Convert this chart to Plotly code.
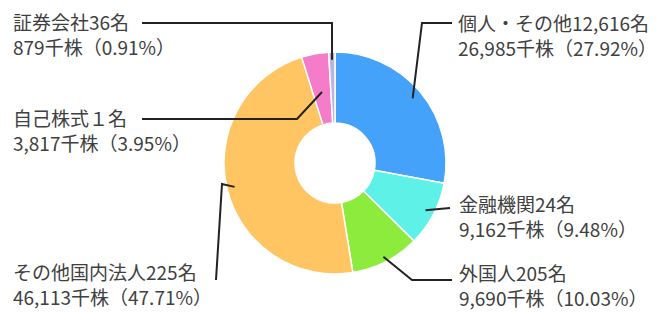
import math
import plotly.graph_objects as go

# ---- data ----
categories = ["個人・その他", "金融機関", "外国人", "その他国内法人", "自己株式", "証券会社"]
holders = ["12,616名", "24名", "205名", "225名", "１名", "36名"]
shares_k = [26985, 9162, 9690, 46113, 3817, 879]          # 千株
percent_text = ["27.92%", "9.48%", "10.03%", "47.71%", "3.95%", "0.91%"]
colors = ["#45A2FA", "#5DF1E8", "#8DEB3E", "#FFC562", "#F47CC9", "#B9B3E6"]

WIN_W, WIN_H = 658, 312
OFF = 8                              # default page body margin
W, H = WIN_W - OFF, WIN_H - OFF
CX, CY, R = 335, 163, 111            # pie centre / radius in window pixels
HOLE = 0.36

def px(x):
    return (x - OFF) / W

def py(y):
    return 1 - (y - OFF) / H

fig = go.Figure(go.Pie(
    labels=categories,
    values=shares_k,
    sort=False,
    direction="clockwise",
    rotation=0,
    hole=HOLE,
    textinfo="none",
    hoverinfo="label+value+percent",
    marker=dict(colors=colors, line=dict(color="white", width=1.5)),
    domain=dict(x=[px(CX - R), px(CX + R)], y=[py(CY + R), py(CY - R)]),
    showlegend=False,
))

# ---- label layout (positions are layout, not data) ----
# x: text left edge, yc: vertical centre of the two-line block
label_layout = {
    "個人・その他":   dict(x=457, yc=35, rf=0.91, elbows=[(422, 23), (452, 23)]),
    "金融機関":       dict(x=458, yc=216, rf=0.92, elbows=[(450, 208)]),
    "外国人":         dict(x=458, yc=285, rf=0.95, elbows=[(412, 280), (452, 280)]),
    "その他国内法人": dict(x=12, yc=284, rf=0.93, elbows=[(222, 184), (216, 280)]),
    "自己株式":       dict(x=12, yc=130, rf=0.65, elbows=[(297, 119), (142, 119)]),
    "証券会社":       dict(x=12, yc=34, rf=0.93, elbows=[(332, 23), (142, 23)]),
}

total = sum(shares_k)
cum = 0.0
shapes = []
annotations = []
for cat, hold, val, pct in zip(categories, holders, shares_k, percent_text):
    mid = (cum + val / 2) / total
    cum += val
    ang = 2 * math.pi * mid
    L = label_layout[cat]
    ax = CX + L["rf"] * R * math.sin(ang)
    ay = CY - L["rf"] * R * math.cos(ang)
    pts = [(ax, ay)] + L["elbows"]
    path = "M {} {}".format(px(pts[0][0]), py(pts[0][1]))
    for (x, y) in pts[1:]:
        path += " L {} {}".format(px(x), py(y))
    shapes.append(dict(type="path", xref="paper", yref="paper", path=path,
                       line=dict(color="#222222", width=2)))
    text = f"{cat}{hold}<br>{val:,}千株（{pct}）"
    annotations.append(dict(
        x=px(L["x"]), y=py(L["yc"]), xref="paper", yref="paper",
        xanchor="left", yanchor="middle", align="left", showarrow=False,
        text=text, borderpad=0,
        font=dict(size=19, color="#404040", family="Noto Sans CJK JP"),
    ))

fig.update_layout(
    width=W, height=H,
    margin=dict(l=0, r=0, t=0, b=0),
    paper_bgcolor="white", plot_bgcolor="white",
    shapes=shapes, annotations=annotations,
)

fig.write_html("out.html")
